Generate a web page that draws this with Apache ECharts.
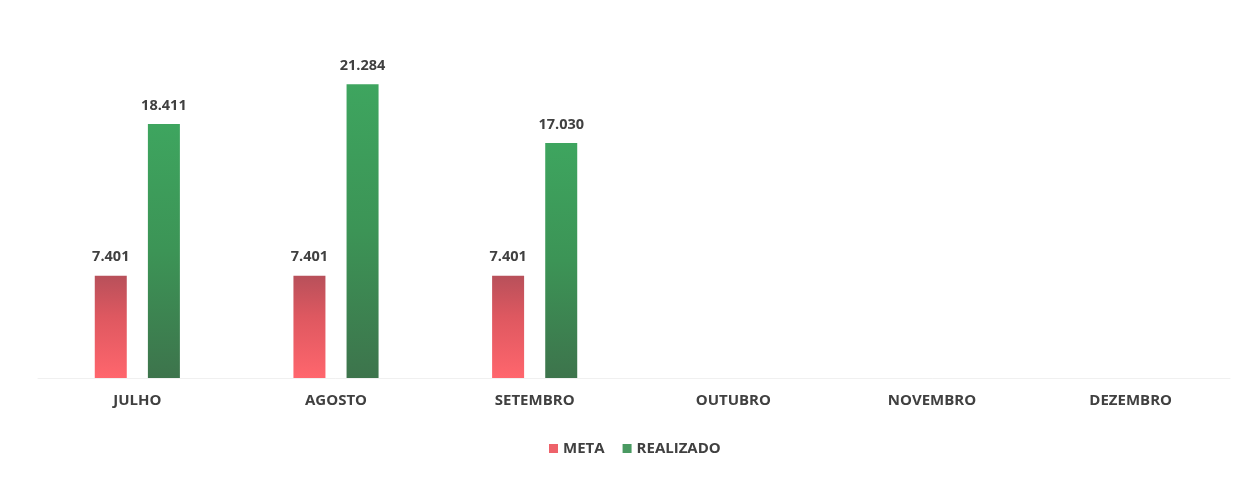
<!DOCTYPE html>
<html>
<head>
<meta charset="utf-8">
<script src="https://cdn.jsdelivr.net/npm/echarts@6/dist/echarts.min.js"></script>
<style>
html,body{margin:0;padding:0;background:#fff;}
#chart{width:1250px;height:478px;}
</style>
</head>
<body>
<div id="chart"></div>
<script>
const categories = ['JULHO', 'AGOSTO', 'SETEMBRO', 'OUTUBRO', 'NOVEMBRO', 'DEZEMBRO'];
const metaValues = [7401, 7401, 7401, null, null, null];
const realizadoValues = [18411, 21284, 17030, null, null, null];
const seriesNames = ['META', 'REALIZADO'];

const fmt = v => v == null ? '' : v.toLocaleString('pt-BR');
const font = '"Open Sans", "Noto Sans", sans-serif';

const chart = echarts.init(document.getElementById('chart'), null, {renderer: 'canvas'});
const labelStyle = {
  show: true, position: 'top', distance: 11,
  color: '#404040', fontWeight: 'bold', fontSize: 14.5, fontFamily: font,
  formatter: p => fmt(p.value)
};
chart.setOption({
  animation: false,
  backgroundColor: '#ffffff',
  grid: {left: 38, right: 20, top: 33, height: 345, containLabel: false},
  legend: {
    data: [
      {name: seriesNames[0], itemStyle: {color: '#ee626a'}},
      {name: seriesNames[1], itemStyle: {color: '#4a9a62'}}
    ],
    left: 544, top: 436,
    itemWidth: 9, itemHeight: 9, itemGap: 18,
    icon: 'rect',
    textStyle: {color: '#404040', fontWeight: 'bold', fontSize: 15, fontFamily: font, padding: [0,0,0,0]}
  },
  xAxis: {
    type: 'category', data: categories,
    axisLine: {show: true, lineStyle: {color: '#f0f0f0'}},
    axisTick: {show: false},
    axisLabel: {color: '#404040', fontWeight: 'bold', fontSize: 15, fontFamily: font, margin: 15}
  },
  yAxis: {
    type: 'value', min: 0, max: 25000, show: false,
    splitLine: {show: false}
  },
  series: [
    {
      name: seriesNames[0], type: 'bar', data: metaValues,
      barWidth: 32, barGap: '66%',
      itemStyle: {
        color: new echarts.graphic.LinearGradient(0, 0, 0, 1, [
          {offset: 0, color: '#b8505a'},
          {offset: 0.4, color: '#de5860'},
          {offset: 1, color: '#ff666d'}
        ])
      },
      label: labelStyle
    },
    {
      name: seriesNames[1], type: 'bar', data: realizadoValues,
      barWidth: 32,
      itemStyle: {
        color: new echarts.graphic.LinearGradient(0, 0, 0, 1, [
          {offset: 0, color: '#3ea55f'},
          {offset: 0.5, color: '#3c9456'},
          {offset: 1, color: '#3d744c'}
        ])
      },
      label: labelStyle
    }
  ]
});
</script>
</body>
</html>
